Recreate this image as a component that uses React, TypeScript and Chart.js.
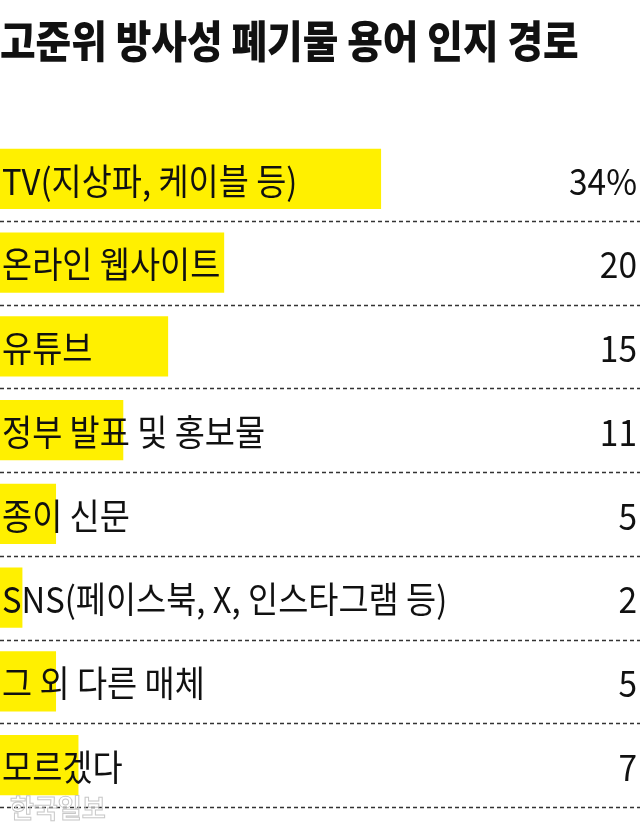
import { useEffect, useRef } from 'react';
import { Chart, registerables, type ChartConfiguration, type Plugin } from 'chart.js';

Chart.register(...registerables);

const TITLE = '고준위 방사성 폐기물 용어 인지 경로';
const CATEGORIES = [
  'TV(지상파, 케이블 등)',
  '온라인 웹사이트',
  '유튜브',
  '정부 발표 및 홍보물',
  '종이 신문',
  'SNS(페이스북, X, 인스타그램 등)',
  '그 외 다른 매체',
  '모르겠다',
];
const VALUES = [34, 20, 15, 11, 5, 2, 5, 7];
const VALUE_LABELS = ['34%', '20', '15', '11', '5', '2', '5', '7'];
const WATERMARK = '한국일보';

const FONT = '"Noto Sans CJK KR", "Noto Sans", sans-serif';

// 가로로 좁힌 글자 (원본 서체가 좁은 편)
function narrowText(ctx: CanvasRenderingContext2D, text: string, x: number, y: number, sx: number, align: CanvasTextAlign) {
  ctx.save();
  ctx.translate(x, y);
  ctx.scale(sx, 1);
  ctx.textAlign = align;
  ctx.fillText(text, 0, 0);
  ctx.restore();
}

// 막대 위 라벨, 값, 점선 구분선, 제목
const overlay: Plugin<'bar'> = {
  id: 'overlay',
  afterDatasetsDraw(chart) {
    const { ctx, chartArea, scales } = chart;
    const y = scales.y;
    const band = y.getPixelForValue(1) - y.getPixelForValue(0);
    ctx.save();
    ctx.textBaseline = 'middle';

    ctx.fillStyle = '#111';
    ctx.font = `900 44px ${FONT}`;
    narrowText(ctx, TITLE, 0, 41, 0.88, 'left');

    CATEGORIES.forEach((cat, i) => {
      const cy = y.getPixelForValue(i);
      ctx.font = `36px ${FONT}`;
      ctx.fillStyle = '#111';
      narrowText(ctx, cat, 2, cy + 2, 0.91, 'left');
      narrowText(ctx, VALUE_LABELS[i], chartArea.right - 3, cy + 2, 0.93, 'right');

      const ly = Math.round(cy + band / 2) + 0.5;
      ctx.strokeStyle = '#333';
      ctx.lineWidth = 1.5;
      ctx.setLineDash([4, 3]);
      ctx.beginPath();
      ctx.moveTo(0, ly);
      ctx.lineTo(chartArea.right, ly);
      ctx.stroke();
    });
    ctx.setLineDash([]);

    ctx.font = `bold 26px ${FONT}`;
    ctx.textAlign = 'left';
    ctx.strokeStyle = '#c8c8c8';
    ctx.lineWidth = 1;
    ctx.strokeText(WATERMARK, 10, 808);
    ctx.restore();
  },
};

export default function App() {
  const canvasRef = useRef<HTMLCanvasElement>(null);
  const chartRef = useRef<Chart | null>(null);

  useEffect(() => {
    document.body.style.margin = '0';
    if (!canvasRef.current) return;
    chartRef.current?.destroy();

    const config: ChartConfiguration<'bar'> = {
      type: 'bar',
      data: {
        labels: CATEGORIES,
        datasets: [{
          data: VALUES,
          backgroundColor: '#fff000',
          borderWidth: 0,
          barPercentage: 0.72,
          categoryPercentage: 1,
        }],
      },
      options: {
        indexAxis: 'y',
        responsive: false,
        animation: false,
        devicePixelRatio: 1,
        layout: { padding: { top: 137, bottom: 28, left: 0, right: 0 } },
        plugins: {
          legend: { display: false },
          tooltip: { enabled: false },
        },
        scales: {
          x: { display: false, min: 0, max: 57.1 },
          y: { display: false },
        },
      },
      plugins: [overlay],
    };
    chartRef.current = new Chart(canvasRef.current, config);

    return () => { chartRef.current?.destroy(); chartRef.current = null; };
  }, []);

  return (
    <div style={{ width: 640, height: 835, background: '#fff' }}>
      <canvas ref={canvasRef} width={640} height={835} />
    </div>
  );
}
